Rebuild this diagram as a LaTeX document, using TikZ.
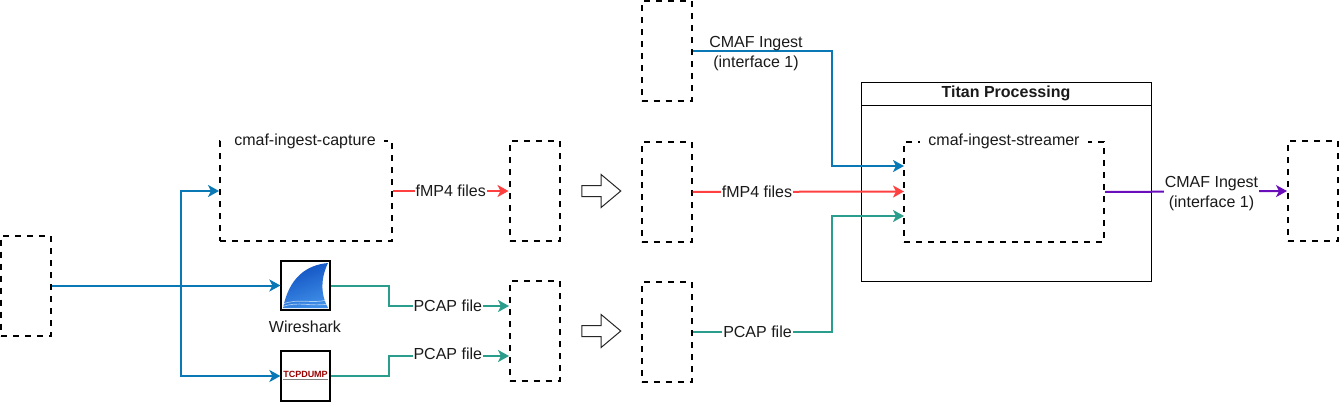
\documentclass[tikz,border=0pt]{standalone}
\usepackage{fontspec}
\setmainfont{Liberation Sans}
\usetikzlibrary{arrows.meta,shapes.arrows}

\definecolor{flowblue}{HTML}{0A78B4}
\definecolor{flowred}{HTML}{FF4040}
\definecolor{flowteal}{HTML}{2A9D8C}
\definecolor{flowpurple}{HTML}{6A0DBA}
\definecolor{textdark}{HTML}{1A1A1A}
\definecolor{findark}{HTML}{0F4FC0}
\definecolor{finlight}{HTML}{3F8FE8}

\tikzset{
	every node/.style={font=\fontsize{16}{20}\selectfont, text=textdark},
	dashbox/.style={draw=black, line width=2pt, dash pattern=on 6pt off 6pt, minimum width=#1, minimum height=100pt, inner sep=0pt},
	dashbox/.default=50pt,
	boxtitle/.style={fill=white, inner xsep=8pt, inner ysep=1pt},
	linelabel/.style={fill=white, inner xsep=1pt, inner ysep=0pt},
	iconbox/.style={draw=black, line width=1.2pt, minimum width=49pt, minimum height=49pt, inner sep=0pt},
	blockarrow/.style={draw=black!85, line width=1pt, single arrow, single arrow head extend=11pt, single arrow tip angle=80, inner sep=0pt, text height=10pt, text depth=0pt, text width=0pt, minimum height=39pt},
	flow/.style={line width=2pt, -{Stealth[length=11pt,width=12pt,inset=3pt]}}
}

\begin{document}
\begin{tikzpicture}[x=1pt,y=-1pt]
	\useasboundingbox (0,0) rectangle (1339,415);

	% titan frame
	\node [draw=black, line width=1pt, minimum width=290pt, minimum height=199pt, inner sep=0pt] (titan) at (1006,181.5) {};
	\node [draw=black, line width=1pt, minimum width=290pt, minimum height=23pt, inner sep=0pt, anchor=north, font=\fontsize{16}{20}\selectfont\bfseries] (titanhead) at (titan.north) {\raisebox{-1.5pt}{Titan Processing}};

	% boxes
	\node [dashbox] (source) at (26,285.5) {};
	\node [dashbox=172pt] (capture) at (306,191) {};
	\node [boxtitle] (capturetitle) at (305,141) {cmaf-ingest-capture};
	\node [dashbox] (fmpsink) at (534.5,191) {};
	\node [dashbox] (pcapsink) at (534.5,331) {};
	\node [dashbox] (ingestsrc) at (666.5,51) {};
	\node [dashbox] (fmpsrc) at (666.5,192) {};
	\node [dashbox] (pcapsrc) at (666.5,332) {};
	\node [dashbox=200pt] (streamer) at (1004,192) {};
	\node [boxtitle] (streamertitle) at (1004,141) {cmaf-ingest-streamer};
	\node [dashbox] (output) at (1313,191) {};

	\node [blockarrow] (shiftfmp) at (598,191) {};
	\node [blockarrow] (shiftpcap) at (598,331) {};

	% icons
	\node [iconbox] (wireshark) at (305.5,285.5) {};
	\node (wiresharklabel) at (305,327) {Wireshark};
	\shade [left color=findark, right color=finlight, shading angle=20]
		(283,308) .. controls (289,278) and (306,265) .. (328,263)
		.. controls (320,280) and (321,295) .. (328,308) -- cycle;
	\draw [white, opacity=.6, line width=.7pt] (283,304) .. controls (298,298) and (312,304) .. (327,300);
	\draw [white, opacity=.6, line width=.7pt] (283,306.5) .. controls (298,301) and (312,307) .. (328,304);

	\node [iconbox, minimum height=50pt] (tcpdump) at (305.5,376) {};
	\node [inner sep=0pt, text=red!60!black, font=\fontsize{9}{10}\selectfont\bfseries] (tcpdumplabel) at (305.5,374) {TCPDUMP};
	\draw [gray, line width=.8pt] (283,379.5) -- (328,379.5);

	% free ends on the streamer
	\coordinate (split) at (181,285.5);
	\coordinate (intoblue) at (904,166);
	\coordinate (intored) at (904,191.5);
	\coordinate (intoteal) at (904,216);
	\coordinate (pcaptop) at (509,306);
	\coordinate (pcapbottom) at (509,356);

	% connectors
	\draw [flow, flowblue] (source.east) -- (wireshark.west);
	\draw [flow, flowblue] (split) |- (capture.west);
	\draw [flow, flowblue] (split) |- (tcpdump.west);

	\draw [flow, flowred] (capture.east) -- node [linelabel, pos=.5] (fmplabela) {fMP4 files} (fmpsink.west);
	\draw [flow, flowteal] (wireshark.east) -| (389,306) -- node [linelabel, pos=.49, yshift=.5pt] (pcaplabela) {PCAP file} (pcaptop);
	\draw [flow, flowteal] (tcpdump.east) -| (389,356) -- node [linelabel, pos=.49, yshift=2.5pt] (pcaplabelb) {PCAP file} (pcapbottom);

	\draw [flow, flowblue] (ingestsrc.east) -| (832,166) -- (intoblue);
	\node [align=center, inner sep=0pt] (ingestlabel) at (756,54) {CMAF Ingest\\(interface 1)};
	\draw [flow, flowred] (fmpsrc.east) -- node [linelabel, pos=.305] (fmplabelb) {fMP4 files} (intored);
	\draw [flow, flowteal] (pcapsrc.east) -| (832,216) -- (intoteal);
	\node [linelabel] (pcaplabelc) at (757.5,332) {PCAP file};

	\draw [flow, flowpurple] (streamer.east) -- node [linelabel, pos=.585, align=center, yshift=-2pt] (outlabel) {CMAF Ingest\\(interface 1)} (output.west);
\end{tikzpicture}
\end{document}
